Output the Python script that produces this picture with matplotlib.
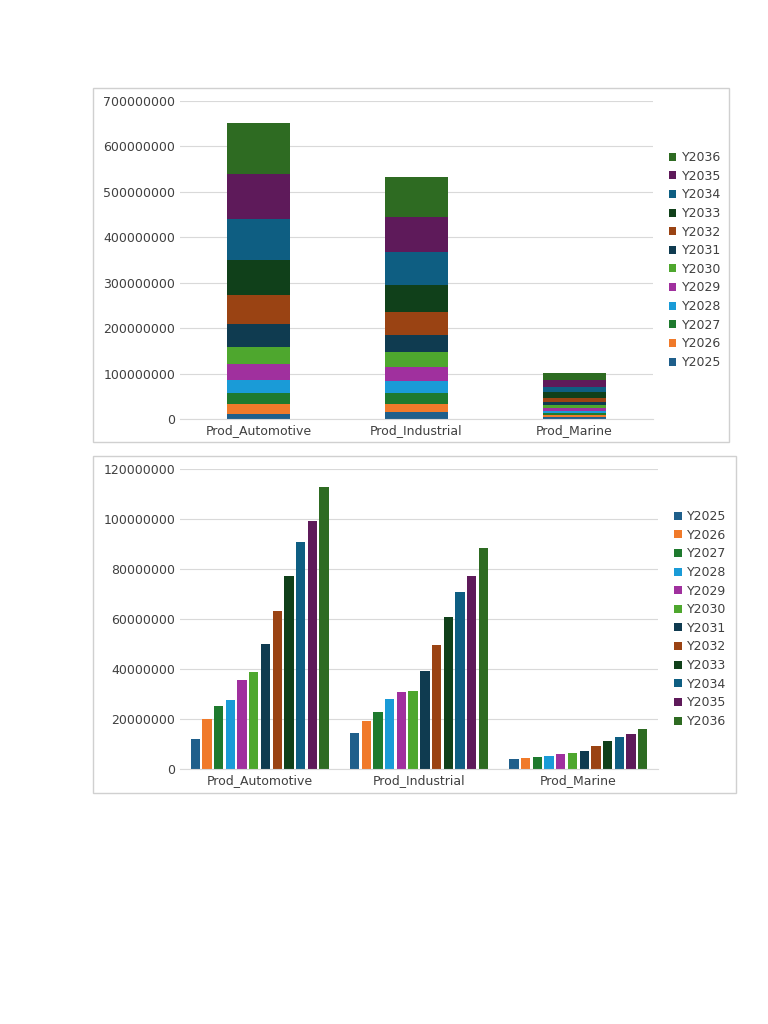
import matplotlib.pyplot as plt
import numpy as np
from matplotlib.patches import Rectangle

categories = ["Prod_Automotive", "Prod_Industrial", "Prod_Marine"]
years = ["Y2025", "Y2026", "Y2027", "Y2028", "Y2029", "Y2030",
         "Y2031", "Y2032", "Y2033", "Y2034", "Y2035", "Y2036"]
automotive = [12.0, 20.0, 25.2, 27.6, 35.6, 38.8, 50.0, 63.2, 77.2, 90.8, 99.2, 112.8]
industrial = [14.4, 19.2, 22.8, 28.0, 30.8, 31.2, 39.2, 49.6, 60.8, 70.8, 77.2, 88.4]
marine = [4.0, 4.4, 4.8, 5.2, 6.0, 6.4, 7.2, 9.2, 11.2, 12.8, 14.0, 16.0]
colors = ["#1f5f8b", "#f07a2a", "#1e7a2e", "#1a9bd7", "#a0309e", "#4ea72e",
          "#0f3b50", "#9a4313", "#10401a", "#0e5e82", "#5e1a5a", "#2e6b22"]

values = np.array([automotive, industrial, marine]).T * 1e6  # rows = years

W, H = 768, 1024
fig = plt.figure(figsize=(W / 100, H / 100), dpi=100)
plt.rcParams['font.family'] = ['DejaVu Sans']

def box(x0, y0, x1, y1):
    fig.patches.append(Rectangle((x0 / W, 1 - y1 / H), (x1 - x0) / W, (y1 - y0) / H,
                                 transform=fig.transFigure, fill=False,
                                 edgecolor="#d0d0d0", lw=1))

def style(ax, ymax, step):
    ax.set_ylim(0, ymax)
    ax.set_yticks(np.arange(0, ymax + 1, step))
    ax.set_yticklabels([f"{int(v)}" for v in np.arange(0, ymax + 1, step)])
    ax.grid(axis="y", color="#d9d9d9", lw=0.8)
    ax.set_axisbelow(True)
    for s in ["top", "right", "left"]:
        ax.spines[s].set_visible(False)
    ax.spines["bottom"].set_color("#d9d9d9")
    ax.tick_params(length=0, labelsize=9, colors="#404040")

# stacked chart
box(93, 88, 729, 442)
ax1 = fig.add_axes([180 / W, 1 - 419 / H, (653 - 180) / W, (419 - 101) / H])
x = np.arange(len(categories))
bottom = np.zeros(len(categories))
for i, yr in enumerate(years):
    ax1.bar(x, values[i], 0.4, bottom=bottom, color=colors[i], label=yr)
    bottom += values[i]
ax1.set_xticks(x)
ax1.set_xticklabels(categories)
ax1.set_xlim(-0.5, 2.5)
style(ax1, 700000000, 100000000)
h, l = ax1.get_legend_handles_labels()
ax1.legend(h[::-1], l[::-1], loc="center left", bbox_to_anchor=(1.01, 0.5), frameon=False,
           fontsize=9, handlelength=0.6, handleheight=0.6, labelspacing=0.45,
           handletextpad=0.4, labelcolor="#404040")

# clustered chart
box(93, 456, 736, 793)
ax2 = fig.add_axes([180 / W, 1 - 769 / H, (658 - 180) / W, (769 - 469) / H])
n = len(years)
bw = 0.88 / n
for i, yr in enumerate(years):
    ax2.bar(x - 0.44 + bw * (i + 0.5), values[i], bw * 0.8, color=colors[i], label=yr)
ax2.set_xticks(x)
ax2.set_xticklabels(categories)
ax2.set_xlim(-0.5, 2.5)
style(ax2, 120000000, 20000000)
ax2.legend(loc="center left", bbox_to_anchor=(1.01, 0.5), frameon=False,
           fontsize=9, handlelength=0.6, handleheight=0.6, labelspacing=0.45,
           handletextpad=0.4, labelcolor="#404040")

fig.savefig("out.png", dpi=100, facecolor="white")
